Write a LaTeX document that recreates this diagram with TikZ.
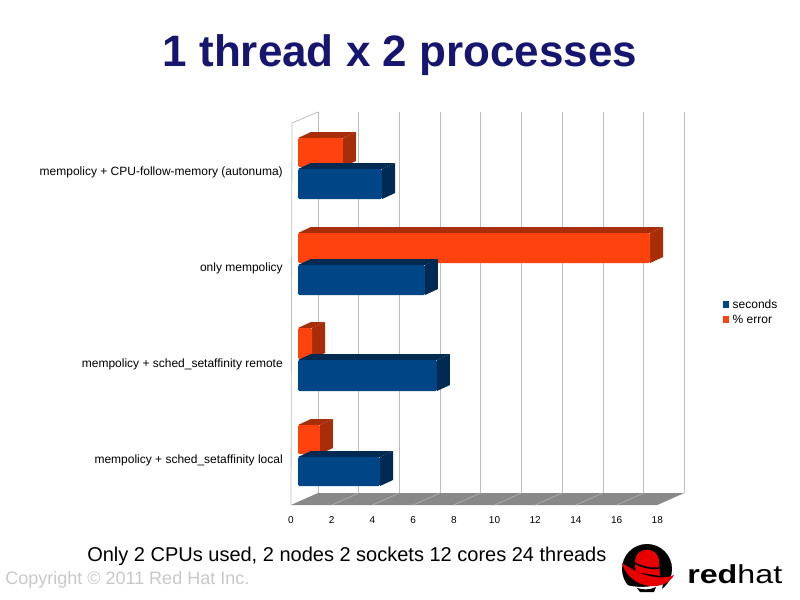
\documentclass[tikz,border=0pt]{standalone}
\usepackage{fontspec}
\setmainfont{Liberation Sans}
\usetikzlibrary{positioning}

\definecolor{titleblue}{RGB}{22,22,112}
\definecolor{secblue}{RGB}{0,69,134}
\definecolor{secside}{RGB}{0,42,82}
\definecolor{errorange}{RGB}{255,66,14}
\definecolor{errside}{RGB}{168,46,10}
\definecolor{floorgray}{RGB}{136,136,136}
\definecolor{floorline}{RGB}{170,170,170}
\definecolor{gridgray}{RGB}{190,190,190}
\definecolor{copygray}{RGB}{200,200,200}
\definecolor{hatred}{RGB}{232,0,0}

% bar: colour, side colour, top y, bottom y, value
\newcommand{\chartbar}[5]{%
  \fill[#2] (298+20.35*#5,#3) -- ++(13,-6) -- (298+20.35*#5+13,#4-6) -- (298+20.35*#5,#4) -- cycle;
  \fill[#2] (298,#3) -- (311,#3-6) -- (298+20.35*#5+13,#3-6) -- (298+20.35*#5,#3) -- cycle;
  \fill[#1, rounded corners=1pt] (298,#3) rectangle (298+20.35*#5,#4);
}

\begin{document}
\begin{tikzpicture}[
  x=0.75pt, y=-0.75pt,
  catlabel/.style = {anchor=east, inner sep=0pt, font=\fontsize{9}{9}\selectfont},
  ticklabel/.style = {inner sep=0pt, font=\fontsize{7.5}{7.5}\selectfont},
  legbox/.style = {minimum size=5.2pt, inner sep=0pt},
  legtext/.style = {inner sep=0pt, font=\fontsize{9}{9}\selectfont},
  grid line/.style = {gridgray, line width=0.6pt}
  ]
  \useasboundingbox (0,0) rectangle (800,600);

  \node[anchor=base, inner sep=0pt, text=titleblue, font=\fontsize{33}{33}\selectfont\bfseries] (title) at (400,66) {1 thread x 2 processes};

  % walls and floor
  \coordinate (f0) at (291,505);
  \coordinate (f18) at (657.3,505);
  \coordinate (b18) at (684.3,493);
  \coordinate (b0) at (318,493);
  \fill[floorgray] (f0) -- (f18) -- (b18) -- (b0) -- cycle;
  \foreach \v in {2,4,...,16}
    \draw[floorline, line width=0.6pt] (291+20.35*\v,505) -- (318+20.35*\v,493);
  \foreach \v in {0,2,...,18}
    \draw[grid line] (318+20.35*\v,112) -- (318+20.35*\v,493);
  \draw[grid line] (f0) -- (292,123) -- (318,112);

  % bars
  \chartbar{errorange}{errside}{138}{167}{2.21}
  \chartbar{secblue}{secside}{169}{199}{4.13}
  \chartbar{errorange}{errside}{233}{263}{17.3}
  \chartbar{secblue}{secside}{265}{295}{6.24}
  \chartbar{errorange}{errside}{328}{359}{0.69}
  \chartbar{secblue}{secside}{360}{391}{6.83}
  \chartbar{errorange}{errside}{425}{454}{1.08}
  \chartbar{secblue}{secside}{457}{486}{4.03}

  \node[catlabel] (catA) at (283,172) {mempolicy + CPU-follow-memory (autonuma)};
  \node[catlabel] (catB) at (283,268) {only mempolicy};
  \node[catlabel] (catC) at (283,364) {mempolicy + sched\_setaffinity remote};
  \node[catlabel] (catD) at (283,460) {mempolicy + sched\_setaffinity local};

  \foreach \v in {0,2,...,18}
    \node[ticklabel] (t\v) at (291+20.35*\v,520) {\v};

  % legend
  \node[legbox, fill=secblue] (keysec) at (726,304.5) {};
  \node[legbox, fill=errorange] (keyerr) at (726,319.5) {};
  \node[legtext, right=2pt of keysec] (legsec) {seconds};
  \node[legtext, right=2pt of keyerr] (legerr) {\% error};

  \node[anchor=base west, inner sep=0pt, font=\fontsize{15}{15}\selectfont] (note) at (87,561) {Only 2 CPUs used, 2 nodes 2 sockets 12 cores 24 threads};
  \node[anchor=base west, inner sep=0pt, text=copygray, font=\fontsize{13.5}{13.5}\selectfont] (copy) at (5,584) {Copyright © 2011 Red Hat Inc.};

  % logo
  \fill[black] (647,569) circle (25);
  \fill[white] (623,584) .. controls (635,588) and (650,588) .. (663,583) -- (661,596) -- (625,596) -- cycle;
  \fill[black] (637,588) .. controls (643,590) and (650,590) .. (656,587) -- (654,592) -- (640,592) -- cycle;
  \fill[hatred] (636,572) .. controls (633,560) and (636,551) .. (645,550) .. controls (654,549) and (658,554) .. (659,560) -- (660,576) -- cycle;
  \fill[hatred] (622,563) .. controls (630,568) and (640,575) .. (655,577) .. controls (663,578) and (670,577) .. (674,575) .. controls (670,583) and (660,587) .. (650,586) .. controls (638,585) and (626,577) .. (622,563) -- cycle;
  \draw[black, line width=1.2pt] (635,563) .. controls (642,567) and (650,569) .. (659,568);
  \node[anchor=base west, inner sep=0pt] (logo) at (687,583) {\scalebox{1.24}[1]{\fontsize{19.5}{19.5}\selectfont\textbf{red}hat}};
\end{tikzpicture}
\end{document}
